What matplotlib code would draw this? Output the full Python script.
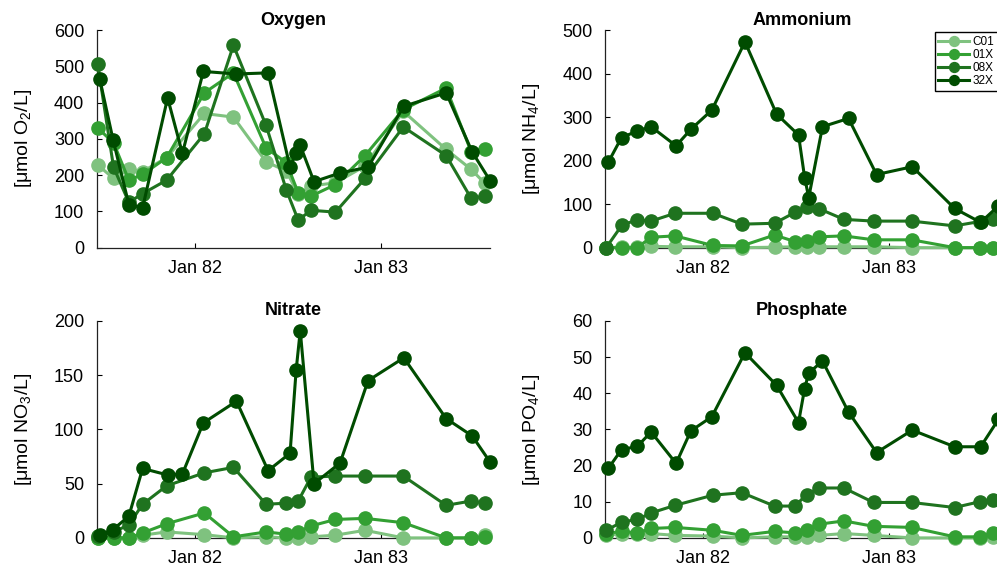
import matplotlib
matplotlib.use('Agg')
import matplotlib.pyplot as plt
import matplotlib.dates as mdates
import pandas as pd

plt.rcParams['font.family'] = ['Liberation Sans', 'DejaVu Sans']
plt.rcParams['mathtext.default'] = 'regular'

# cruise dates: C01, 01X and 08X share one list, 32X was sampled on its own days
dates_low = pd.to_datetime([
    '1981-06-25', '1981-07-26', '1981-08-25', '1981-09-21', '1981-11-07',
    '1982-01-20', '1982-03-18', '1982-05-21', '1982-06-30', '1982-07-23',
    '1982-08-17', '1982-10-04', '1982-12-01', '1983-02-14', '1983-05-09',
    '1983-06-27', '1983-07-24'])
dates_32x = pd.to_datetime([
    '1981-06-29', '1981-07-25', '1981-08-25', '1981-09-21', '1981-11-09',
    '1981-12-08', '1982-01-18', '1982-03-24', '1982-05-25', '1982-07-07',
    '1982-07-19', '1982-07-27', '1982-08-23', '1982-10-13', '1982-12-07',
    '1983-02-15', '1983-05-09', '1983-06-29', '1983-08-03'])

stations = ['C01', '01X', '08X', '32X']
colors = ['#7fc27f', '#33a033', '#1f731f', '#004c00']

# oxygen [umol/L]
oxy_c01 = [228, 191, 216, 210, 248, 370, 360, 237, 211, 147, 170, 179, 225, 376, 271, 216, 177]
oxy_01x = [330, 289, 186, 202, 248, 427, 482, 275, 234, 151, 142, 174, 254, 381, 440, 265, 272]
oxy_08x = [506, 222, 125, 149, 186, 314, 558, 337, 158, 76, 103, 98, 191, 333, 254, 136, 142]
oxy_32x = [465, 298, 119, 110, 413, 260, 486, 479, 482, 222, 261, 282, 182, 206, 222, 390, 427, 264, 185]

# ammonium
nh4_c01 = [0, 1, 1, 3, 2, 2, 0, 1, 2, 1, 2, 2, 2, 0, 0, 0, 0]
nh4_01x = [0, 0, 0, 24, 27, 5, 4, 29, 14, 15, 25, 27, 18, 18, 0, 0, 0]
nh4_08x = [0, 52, 64, 61, 79, 79, 54, 56, 81, 94, 89, 65, 61, 61, 50, 60, 65]
nh4_32x = [196, 253, 268, 278, 234, 272, 316, 473, 307, 259, 161, 115, 278, 297, 168, 186, 90, 58, 96]

# nitrate
no3_c01 = [0, 0, 0, 2.5, 5.5, 3, 0, 1, 0, 0, 1, 2.5, 7, 0, 0, 0, 2.5]
no3_01x = [0, 0, 0, 4.6, 13, 23, 1, 5.5, 3.4, 5.5, 11, 17, 18, 14, 0, 0, 1]
no3_08x = [2, 5.5, 12, 31, 48, 60, 65, 31, 32, 34, 56, 57, 57, 57, 30, 34, 32]
no3_32x = [2.5, 7.7, 20, 64, 58, 59, 106, 126, 62, 78, 155, 191, 50, 69, 145, 166, 110, 94, 70]

# phosphate
po4_c01 = [0.7, 1.2, 1.2, 1.2, 0.7, 0.5, 0, 0.3, 0.3, 0.3, 0.7, 1.2, 0.7, 0, 0, 0, 0.3]
po4_01x = [1.2, 1.8, 1.4, 2.6, 2.9, 2.1, 0.7, 1.8, 1.4, 2.3, 3.8, 4.7, 3.2, 2.9, 0.3, 0.3, 1.4]
po4_08x = [2.1, 4.4, 5.1, 6.9, 9.0, 11.8, 12.5, 8.8, 8.8, 12.0, 13.8, 13.8, 9.8, 9.8, 8.4, 10.0, 10.4]
po4_32x = [19.2, 24.4, 25.3, 29.3, 20.6, 29.6, 33.5, 51.2, 42.2, 31.9, 41.3, 45.6, 48.9, 34.8,
           23.6, 29.8, 25.2, 25.2, 32.8]

panels = [
    ('Oxygen', '[μmol O$_2$/L]', 600, 100, [oxy_c01, oxy_01x, oxy_08x, oxy_32x]),
    ('Ammonium', '[μmol NH$_4$/L]', 500, 100, [nh4_c01, nh4_01x, nh4_08x, nh4_32x]),
    ('Nitrate', '[μmol NO$_3$/L]', 200, 50, [no3_c01, no3_01x, no3_08x, no3_32x]),
    ('Phosphate', '[μmol PO$_4$/L]', 60, 10, [po4_c01, po4_01x, po4_08x, po4_32x]),
]

fig = plt.figure(figsize=(9.97, 5.68), dpi=100)
boxes = [[0.097, 0.564, 0.3945, 0.383], [0.607, 0.564, 0.3945, 0.383],
         [0.097, 0.053, 0.3945, 0.382], [0.607, 0.053, 0.3945, 0.382]]

xmin = pd.Timestamp('1981-06-23')
xmax = dates_32x[-1]

for i, (title, ylab, ymax, ystep, series) in enumerate(panels):
    ax = fig.add_axes(boxes[i])
    for name, col, vals in zip(stations, colors, series):
        x = dates_32x if name == '32X' else dates_low
        ax.plot(x, vals, '-o', color=col, lw=2.2, ms=9.5, label=name,
                clip_on=False, zorder=3)
    ax.set_xlim(xmin, xmax)
    ax.set_ylim(0, ymax)
    ax.set_yticks(range(0, ymax + 1, ystep))
    ax.set_xticks(pd.to_datetime(['1982-01-01', '1983-01-01']))
    ax.xaxis.set_major_formatter(mdates.DateFormatter('%b %y'))
    ax.spines['top'].set_visible(False)
    ax.spines['right'].set_visible(False)
    for s in ['left', 'bottom']:
        ax.spines[s].set_linewidth(0.9)
        ax.spines[s].set_color('#222222')
    ax.tick_params(direction='in', length=3.5, width=0.8, labelsize=13, pad=9)
    ax.set_title(title, fontsize=13, fontweight='bold', pad=4)
    ax.set_ylabel(ylab, fontsize=14)
    ax.yaxis.set_label_coords(-0.16, 0.5)
    if title == 'Ammonium':
        leg = ax.legend(loc='upper right', bbox_to_anchor=(0.998, 0.99), fontsize=8.5,
                        labelspacing=0.1, handlelength=2.6, handletextpad=0.3,
                        borderpad=0.3, borderaxespad=0, markerscale=0.75,
                        fancybox=False, framealpha=1)
        leg.get_frame().set_edgecolor('black')
        leg.get_frame().set_linewidth(1.0)

fig.savefig('out.png', dpi=100)
